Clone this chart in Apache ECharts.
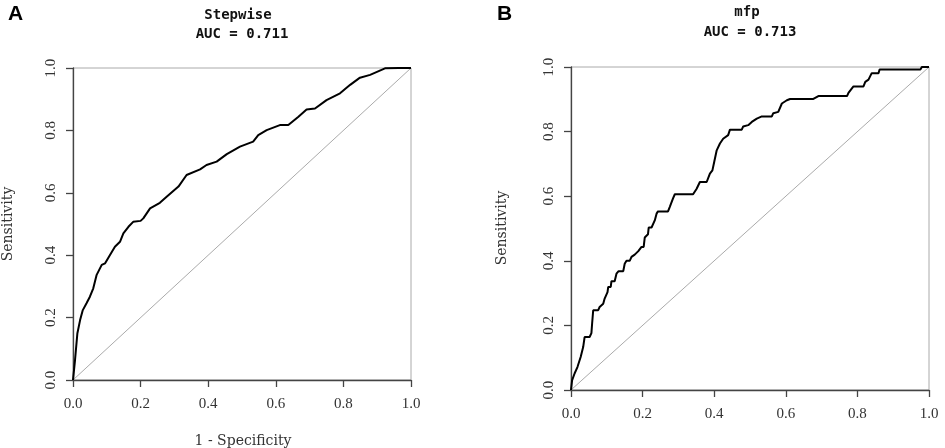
<!DOCTYPE html>
<html>
<head>
<meta charset="UTF-8">
<script src="https://cdn.jsdelivr.net/npm/echarts@6/dist/echarts.min.js"></script>
<style type="text/css">
html,body{margin:0;padding:0;background:#fff;}
#main{width:945px;height:448px;}
</style>
</head>
<body>
<div id="main"></div>
<script type="text/javascript">
// ROC curve for the stepwise model (1 - specificity, sensitivity)
var stepwiseFpr = [0, 0.006, 0.013, 0.021, 0.029, 0.040, 0.050, 0.060, 0.070, 0.085, 0.095, 0.109, 0.124, 0.139, 0.149, 0.164, 0.178, 0.200, 0.208, 0.228, 0.257, 0.277, 0.312, 0.336, 0.376, 0.395, 0.425, 0.455, 0.494, 0.533, 0.548, 0.573, 0.612, 0.637, 0.667, 0.691, 0.716, 0.750, 0.790, 0.820, 0.849, 0.879, 0.923, 0.963, 1];
var stepwiseTpr = [0, 0.064, 0.150, 0.192, 0.224, 0.246, 0.267, 0.294, 0.337, 0.369, 0.374, 0.400, 0.427, 0.443, 0.470, 0.491, 0.507, 0.510, 0.518, 0.550, 0.568, 0.587, 0.620, 0.657, 0.675, 0.689, 0.700, 0.724, 0.748, 0.764, 0.785, 0.801, 0.817, 0.817, 0.844, 0.867, 0.870, 0.897, 0.919, 0.946, 0.969, 0.978, 0.999, 1.000, 1];
// ROC curve for the mfp model
var mfpFpr = [0, 0.003, 0.010, 0.018, 0.027, 0.034, 0.038, 0.052, 0.057, 0.059, 0.062, 0.076, 0.080, 0.090, 0.094, 0.102, 0.104, 0.111, 0.113, 0.122, 0.127, 0.133, 0.146, 0.150, 0.155, 0.164, 0.169, 0.178, 0.188, 0.197, 0.203, 0.206, 0.215, 0.217, 0.225, 0.234, 0.239, 0.243, 0.271, 0.276, 0.285, 0.290, 0.341, 0.351, 0.360, 0.379, 0.388, 0.395, 0.400, 0.407, 0.416, 0.425, 0.439, 0.444, 0.477, 0.481, 0.495, 0.505, 0.519, 0.533, 0.561, 0.565, 0.579, 0.589, 0.603, 0.612, 0.677, 0.691, 0.771, 0.775, 0.789, 0.817, 0.822, 0.831, 0.840, 0.859, 0.862, 0.976, 0.980, 1];
var mfpTpr = [0, 0.030, 0.051, 0.071, 0.102, 0.133, 0.164, 0.164, 0.176, 0.206, 0.247, 0.247, 0.257, 0.267, 0.283, 0.303, 0.319, 0.319, 0.337, 0.337, 0.360, 0.368, 0.368, 0.391, 0.400, 0.400, 0.412, 0.419, 0.430, 0.443, 0.443, 0.472, 0.482, 0.503, 0.503, 0.525, 0.546, 0.553, 0.553, 0.567, 0.593, 0.606, 0.606, 0.623, 0.644, 0.644, 0.670, 0.680, 0.706, 0.742, 0.763, 0.778, 0.789, 0.806, 0.806, 0.816, 0.820, 0.830, 0.840, 0.847, 0.847, 0.857, 0.861, 0.887, 0.897, 0.901, 0.901, 0.910, 0.910, 0.920, 0.940, 0.940, 0.954, 0.961, 0.981, 0.981, 0.992, 0.992, 1.000, 1];
// chance line
var diagX = [0, 1];
var diagY = [0, 1];
var tickValues = [0, 0.2, 0.4, 0.6, 0.8, 1.0];
var panelTitles = ['Stepwise', 'mfp'];
var aucLabels = ['AUC = 0.711', 'AUC = 0.713'];

function pairs(xs, ys){
	var out = [];
	for(var i = 0; i < xs.length; i++){
		out.push([xs[i], ys[i]]);
	}
	return out;
}

var tickFont = {fontFamily: 'Liberation Serif', fontSize: 15, color: '#333'};
var nameFont = {fontFamily: 'DejaVu Serif', fontSize: 14, fill: '#333'};
var titleFont = {fontFamily: 'DejaVu Sans Mono', fontSize: 14, fontWeight: 'bold', fill: '#111'};

function makeAxis(idx, isY){
	return {
		type: 'value', gridIndex: idx, min: 0, max: 1, interval: 0.2,
		axisLine: {show: true, onZero: false, lineStyle: {color: '#444', width: 1.3}},
		axisTick: {show: true, length: 7, lineStyle: {color: '#444', width: 1.3}},
		splitLine: {show: false},
		axisLabel: {
			margin: isY ? 14 : 17, rotate: isY ? 90 : 0,
			fontFamily: tickFont.fontFamily, fontSize: tickFont.fontSize, color: tickFont.color,
			formatter: function(v){ return v.toFixed(1); }
		}
	};
}

var myChart = echarts.init(document.getElementById('main'));
var option = {
	animation: false,
	backgroundColor: '#fff',
	grid: [
		{left: 73, top: 68, width: 338, height: 312, show: true, borderColor: '#aaa', borderWidth: 1},
		{left: 571, top: 67, width: 358, height: 323, show: true, borderColor: '#aaa', borderWidth: 1}
	],
	xAxis: [makeAxis(0, false), makeAxis(1, false)],
	yAxis: [makeAxis(0, true), makeAxis(1, true)],
	series: [
		{type: 'line', xAxisIndex: 0, yAxisIndex: 0, data: pairs(diagX, diagY), showSymbol: false, lineStyle: {color: '#aaa', width: 1}, z: 2},
		{type: 'line', xAxisIndex: 0, yAxisIndex: 0, data: pairs(stepwiseFpr, stepwiseTpr), showSymbol: false, lineStyle: {color: '#000', width: 2}, z: 3},
		{type: 'line', xAxisIndex: 1, yAxisIndex: 1, data: pairs(diagX, diagY), showSymbol: false, lineStyle: {color: '#aaa', width: 1}, z: 2},
		{type: 'line', xAxisIndex: 1, yAxisIndex: 1, data: pairs(mfpFpr, mfpTpr), showSymbol: false, lineStyle: {color: '#000', width: 2}, z: 3}
	],
	graphic: [
		{type: 'text', left: 8, top: 4, style: {text: 'A', fontFamily: 'Liberation Sans', fontWeight: 'bold', fontSize: 21, fill: '#000'}},
		{type: 'text', left: 497, top: 4, style: {text: 'B', fontFamily: 'Liberation Sans', fontWeight: 'bold', fontSize: 21, fill: '#000'}},
		{type: 'text', x: 238, y: 15, style: Object.assign({text: panelTitles[0], align: 'center', verticalAlign: 'middle'}, titleFont)},
		{type: 'text', x: 242, y: 34, style: Object.assign({text: aucLabels[0], align: 'center', verticalAlign: 'middle'}, titleFont)},
		{type: 'text', x: 747, y: 12, style: Object.assign({text: panelTitles[1], align: 'center', verticalAlign: 'middle'}, titleFont)},
		{type: 'text', x: 750, y: 32, style: Object.assign({text: aucLabels[1], align: 'center', verticalAlign: 'middle'}, titleFont)},
		{type: 'text', x: 8, y: 224, rotation: Math.PI / 2, style: Object.assign({text: 'Sensitivity', align: 'center', verticalAlign: 'middle'}, nameFont)},
		{type: 'text', x: 502, y: 228, rotation: Math.PI / 2, style: Object.assign({text: 'Sensitivity', align: 'center', verticalAlign: 'middle'}, nameFont)},
		{type: 'text', x: 243, y: 441, style: Object.assign({text: '1 - Specificity', align: 'center', verticalAlign: 'middle'}, nameFont)},
		{type: 'text', x: 750, y: 455, style: Object.assign({text: '1 - Specificity', align: 'center', verticalAlign: 'middle'}, nameFont)}
	]
};
myChart.setOption(option);
</script>
</body>
</html>
